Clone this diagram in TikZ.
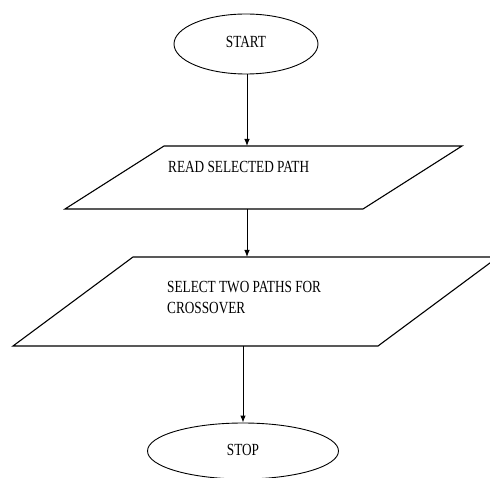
\documentclass[tikz,border=0pt]{standalone}
\usepackage{fontspec}
\setmainfont{Liberation Serif}
\newfontfamily\condfont[FakeStretch=0.78]{Liberation Serif}
\usetikzlibrary{shapes.geometric,arrows.meta}
\begin{document}
\begin{tikzpicture}[x=1pt,y=-1pt,
  lbl/.style={font=\condfont\fontsize{17}{21}\selectfont, inner sep=0pt, align=left},
  term/.style={draw, ellipse, line width=0.9pt, inner sep=0pt},
  shapeline/.style={draw, line width=1.1pt, line join=miter},
  conn/.style={draw, line width=0.9pt, -{Latex[length=7pt,width=5.5pt]}},
  plainconn/.style={draw, line width=0.9pt}]
\useasboundingbox (0,0) rectangle (490,478);
\clip (0,0) rectangle (490,478);
% START
\node[term, minimum width=144pt, minimum height=60pt] (start) at (246,44) {};
\node[lbl] (starttext) at (246,42) {START};
% READ SELECTED PATH parallelogram
\path[shapeline] (164,146) -- (462,146) -- (363,209) -- (65,209) -- cycle;
\coordinate (p1top) at (247,146);
\coordinate (p1bot) at (247,209);
\node[lbl, anchor=base west] (p1text) at (168,173) {READ SELECTED PATH};
% SELECT TWO PATHS parallelogram
\path[shapeline] (133,257) -- (498,257) -- (378,346) -- (13,346) -- cycle;
\coordinate (p2top) at (247,257);
\coordinate (p2bot) at (243,346);
\node[lbl, anchor=north west] (p2text) at (167,281) {SELECT TWO PATHS FOR\\CROSSOVER};
% STOP
\node[term, minimum width=191pt, minimum height=56pt] (stop) at (243,451) {};
\node[lbl] (stoptext) at (243,450) {STOP};
% connectors
\path[conn] (start.south -| p1top) -- (p1top);
\path[conn] (p1bot) -- (p2top);
\path[conn] (p2bot) -- (stop.north);
\end{tikzpicture}
\end{document}
